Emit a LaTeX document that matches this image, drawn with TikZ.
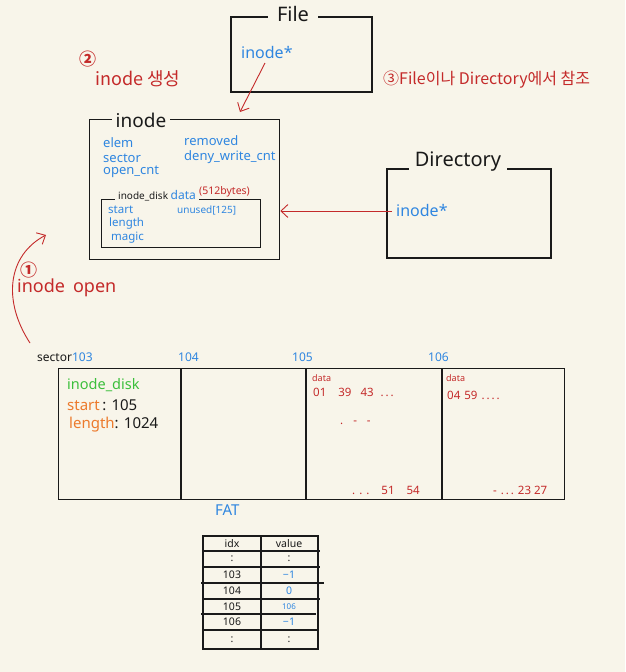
\documentclass[tikz,border=0pt]{standalone}
\usepackage{fontspec}
\setmainfont{Noto Sans}
\newfontfamily\kr{Noto Sans CJK KR}
\usetikzlibrary{arrows.meta}
\definecolor{bg}{HTML}{F8F5EA}
\definecolor{pblue}{HTML}{2F86E0}
\definecolor{pred}{HTML}{C42A2A}
\definecolor{pgreen}{HTML}{3CBF3C}
\definecolor{porange}{HTML}{EC7A2C}
\definecolor{ink}{HTML}{1A1A1A}
\begin{document}
\begin{tikzpicture}[x=1pt,y=-1pt,
  box/.style={draw=ink, line width=1.6pt, anchor=north west, inner sep=0pt},
  thinbox/.style={draw=ink, line width=1.2pt, anchor=north west, inner sep=0pt},
  title/.style={fill=bg, inner xsep=7pt, inner ysep=1pt, text=ink},
  txt/.style={inner sep=0pt, anchor=west},
  blu/.style={txt, text=pblue},
  rd/.style={txt, text=pred},
  arr/.style={draw=pred, line width=0.9pt, -{Straight Barb[length=7pt,width=13pt]}},
  tline/.style={draw=ink, line width=1.1pt}
]
\useasboundingbox[fill=bg] (0,0) rectangle (625,672);

% File box
\node[box, minimum width=141pt, minimum height=75pt] (file) at (230,16) {};
\node[title, font=\fontsize{20}{20}\selectfont, inner xsep=9pt] (filet) at (293,14) {File};
\node[blu, font=\fontsize{16}{16}\selectfont] (fptr) at (241,52) {inode*};

% annotation 2
\node[rd, font=\kr\bfseries\fontsize{17}{17}\selectfont] (n2) at (79,59) {②};
\node[rd, font=\kr\fontsize{18}{18}\selectfont] (n2t) at (95,79) {inode 생성};

% annotation 3
\node[rd, font=\kr\fontsize{16}{16}\selectfont] (n3) at (383,80) {③File이나 Directory에서 참조};

% inode box
\node[box, line width=1.3pt, minimum width=190pt, minimum height=140pt] (inode) at (89,119) {};
\node[title, font=\fontsize{19}{19}\selectfont, inner xsep=4pt] (inodet) at (141,120) {inode};
\begin{scope}[font=\fontsize{13}{13}\selectfont]
\node[blu] (elem) at (103,143) {elem};
\node[blu] (sector) at (103,158) {sector};
\node[blu] (opencnt) at (103,172) {open\_cnt};
\node[blu] (removed) at (184,141) {removed};
\node[blu] (deny) at (184,157) {deny\_write\_cnt};
\end{scope}

% inode_disk box
\node[box, line width=1.3pt, minimum width=159pt, minimum height=48pt] (idisk) at (101,199) {};
\node[txt, fill=bg, inner xsep=3pt, inner ysep=2pt] (idiskt) at (115,196) {\fontsize{10}{10}\selectfont\color{ink}inode\_disk \fontsize{12}{12}\selectfont\color{pblue}data};
\node[rd, font=\fontsize{10.5}{10.5}\selectfont] (bytes) at (199,192) {(512bytes)};
\begin{scope}[font=\fontsize{11.5}{11.5}\selectfont]
\node[blu] (start) at (108,210) {start};
\node[blu] (length) at (109,224) {length};
\node[blu] (magic) at (111,238) {magic};
\node[blu, font=\fontsize{10}{10}\selectfont] (unused) at (177,210) {unused[125]};
\end{scope}

% Directory box
\node[box, minimum width=164pt, minimum height=89pt] (dir) at (386,168) {};
\node[title, font=\fontsize{20}{20}\selectfont, inner xsep=6pt] (dirt) at (458,162) {Directory};
\node[blu, font=\fontsize{16}{16}\selectfont] (dptr) at (396,210) {inode*};

% arrows
\coordinate (fa) at (265,63);
\coordinate (fb) at (240,112);
\draw[arr] (fa) -- (fb);
\draw[arr] (dptr.west) ++(-4,1) coordinate (da) -- (da -| inode.east) coordinate (db);
\coordinate (ca) at (30,343);
\coordinate (cb) at (46,235);
\draw[arr] (ca) .. controls (2,300) and (8,255) .. (cb);

% annotation 1
\node[rd, font=\kr\bfseries\fontsize{17}{17}\selectfont] (n1) at (20,270) {①};
\node[rd, font=\fontsize{18}{18}\selectfont] (n1t) at (17,288) {inode\hspace{8pt}open};

% sector labels
\node[txt, font=\fontsize{12}{12}\selectfont, text=ink] (seclab) at (37,357) {sector\textcolor{pblue}{103}};
\node[blu, font=\fontsize{12}{12}\selectfont] (s104) at (178,357) {104};
\node[blu, font=\fontsize{12}{12}\selectfont] (s105) at (292,357) {105};
\node[blu, font=\fontsize{12}{12}\selectfont] (s106) at (428,357) {106};

% big sector box
\node[thinbox, minimum width=506pt, minimum height=131pt] (disk) at (58,368) {};
\draw[line width=1.2pt, draw=ink] (181,368) coordinate (d1a) -- (181,499) coordinate (d1b);
\draw[line width=1.2pt, draw=ink] (306,368) coordinate (d2a) -- (306,499) coordinate (d2b);
\draw[line width=1.2pt, draw=ink] (442,368) coordinate (d3a) -- (442,499) coordinate (d3b);

\node[txt, text=pgreen, font=\fontsize{14.5}{14.5}\selectfont] (gid) at (67,385) {inode\_disk};
\node[txt, font=\fontsize{15}{15}\selectfont] (gstart) at (67,405) {\textcolor{porange}{start}\,\textcolor{ink}{: 105}};
\node[txt, font=\fontsize{15}{15}\selectfont] (glength) at (69,425) {\textcolor{porange}{length}\textcolor{ink}{: 1024}};

\node[rd, font=\fontsize{9}{9}\selectfont] (data5) at (312,378) {data};
\node[rd, font=\fontsize{11.5}{11.5}\selectfont] (r5a) at (313,392) {01\hspace{12pt}39\hspace{9pt}43\hspace{7pt}.\,.\,.};
\node[rd, font=\fontsize{11.5}{11.5}\selectfont] (r5b) at (340,423) {.\hspace{10pt}-\hspace{10pt}-};
\node[rd, font=\fontsize{11.5}{11.5}\selectfont] (r5c) at (352,490) {.\hspace{4pt}.\hspace{4pt}.\hspace{12pt}51\hspace{12pt}54};

\node[rd, font=\fontsize{9}{9}\selectfont] (data6) at (446,378) {data};
\node[rd, font=\fontsize{11.5}{11.5}\selectfont] (r6a) at (447,395) {04\hspace{4pt}59\hspace{4pt}.\,.\,.\,.};
\node[rd, font=\fontsize{11.5}{11.5}\selectfont] (r6b) at (493,490) {-\hspace{4pt}.\,.\,.\hspace{4pt}23\hspace{3pt}27};

% FAT
\node[blu, font=\fontsize{15}{15}\selectfont] (fat) at (215,510) {FAT};

% table
\draw[tline] (203,536) coordinate (t1) rectangle (318,649) coordinate (t2);
\draw[tline] (261,536) coordinate (tm1) -- (261,649) coordinate (tm2);
\draw[tline] (203,551) coordinate (h1a) -- (320,551) coordinate (h1b);
\draw[tline] (203,567) coordinate (h2a) -- (320,567) coordinate (h2b);
\draw[tline] (201,583) coordinate (h3a) -- (324,583) coordinate (h3b);
\draw[tline] (203,599) coordinate (h4a) -- (320,599) coordinate (h4b);
\draw[tline] (201,614) coordinate (h5a) -- (316,614) coordinate (h5b);
\draw[tline] (203,630) coordinate (h6a) -- (318,630) coordinate (h6b);
\begin{scope}[every node/.style={inner sep=0pt, text=ink, font=\fontsize{10.5}{10.5}\selectfont}]
\node (c11) at (232,543.5) {idx};
\node (c12) at (289,543.5) {value};
\node (c21) at (232,559) {:};
\node (c22) at (289,559) {:};
\node (c31) at (232,575) {103};
\node[text=pblue] (c32) at (289,575) {−1};
\node (c41) at (232,591) {104};
\node[text=pblue] (c42) at (289,591) {0};
\node (c51) at (232,606.5) {105};
\node[text=pblue, font=\fontsize{8}{8}\selectfont] (c52) at (289,606.5) {106};
\node (c61) at (232,622) {106};
\node[text=pblue] (c62) at (289,622) {−1};
\node (c71) at (232,640) {:};
\node (c72) at (289,640) {:};
\end{scope}
\end{tikzpicture}
\end{document}
